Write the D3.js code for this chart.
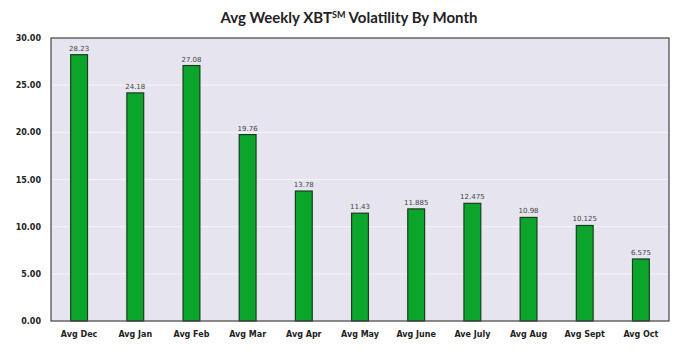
<!DOCTYPE html>
<html><head><meta charset="utf-8">
<script src="https://cdn.jsdelivr.net/npm/d3@7"></script>
<style>body{margin:0;background:#fff;}svg{display:block;}</style>
</head><body>
<svg id="c" width="700" height="357"></svg>
<script>
const categories = ["Avg Dec","Avg Jan","Avg Feb","Avg Mar","Avg Apr","Avg May","Avg June","Ave July","Avg Aug","Avg Sept","Avg Oct"];
const values = [28.23,24.18,27.08,19.76,13.78,11.43,11.885,12.475,10.98,10.125,6.575];
const valueLabels = ["28.23","24.18","27.08","19.76","13.78","11.43","11.885","12.475","10.98","10.125","6.575"];
const yTicks = [0,5,10,15,20,25,30];

const svg = d3.select("#c");
const m = {l:51, r:669, t:38, b:321};
const x = d3.scaleBand().domain(categories).range([m.l, m.r]).paddingInner(0.7).paddingOuter(0.35);
const y = d3.scaleLinear().domain([0,30]).range([m.b, m.t]);

svg.append("rect").attr("x",m.l).attr("y",m.t).attr("width",m.r-m.l).attr("height",m.b-m.t)
  .attr("fill","#e6e5ef");

// gridlines
svg.append("g").selectAll("line").data(yTicks.slice(1,-1)).join("line")
  .attr("x1",m.l).attr("x2",m.r).attr("y1",d=>y(d)).attr("y2",d=>y(d))
  .attr("stroke","#f4f4f8").attr("stroke-width",1);

svg.append("g").selectAll("rect").data(values).join("rect")
  .attr("x",(d,i)=>x(categories[i])).attr("width",x.bandwidth())
  .attr("y",d=>y(d)).attr("height",d=>y(0)-y(d))
  .attr("fill","#0ba52c").attr("stroke","#1b3d1f").attr("stroke-width",1.2);

svg.append("g").selectAll("text").data(values).join("text")
  .attr("x",(d,i)=>x(categories[i])+x.bandwidth()/2).attr("y",d=>y(d)-4)
  .attr("text-anchor","middle").attr("font-family","'DejaVu Sans', sans-serif")
  .attr("font-size","7px").attr("fill","#444").text((d,i)=>valueLabels[i]);

svg.append("rect").attr("x",m.l).attr("y",m.t).attr("width",m.r-m.l).attr("height",m.b-m.t)
  .attr("fill","none").attr("stroke","#444").attr("stroke-width",1.2);

const ya = svg.append("g").attr("transform",`translate(${m.l},0)`)
  .call(d3.axisLeft(y).tickValues(yTicks).tickFormat(d3.format(".2f")).tickSize(0).tickPadding(10));
ya.select(".domain").remove();
ya.selectAll("text").attr("font-family","'DejaVu Sans', sans-serif").attr("font-weight","bold")
  .attr("font-size","8px").attr("fill","#222");

const xa = svg.append("g").attr("transform",`translate(0,${m.b})`)
  .call(d3.axisBottom(x).tickSize(0).tickPadding(10));
xa.select(".domain").remove();
xa.selectAll("text").attr("font-family","'DejaVu Sans', sans-serif").attr("font-weight","bold")
  .attr("font-size","8px").attr("fill","#222");

const t = svg.append("text").attr("x",349).attr("y",23).attr("text-anchor","middle")
  .attr("font-family","Lato, sans-serif").attr("font-weight","bold").attr("font-size","15px").attr("fill","#222");
t.append("tspan").text("Avg Weekly XBT");
t.append("tspan").attr("font-size","9px").attr("dy","-5").text("SM");
t.append("tspan").attr("dy","5").text(" Volatility By Month");
</script>
</body></html>
